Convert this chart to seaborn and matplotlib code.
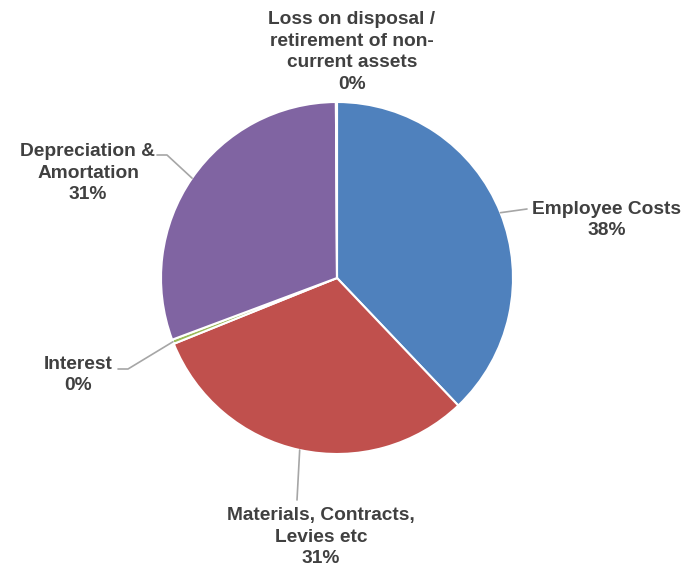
import numpy as np
import matplotlib
matplotlib.use("Agg")
import matplotlib.pyplot as plt
import seaborn as sns

categories = ["Employee Costs", "Materials, Contracts,\nLevies etc", "Interest",
              "Depreciation &\nAmortation", "Loss on disposal /\nretirement of non-\ncurrent assets"]
shares = [37.9, 31.0, 0.4, 30.6, 0.1]
pct_labels = ["38%", "31%", "0%", "31%", "0%"]
colors = ["#4F81BD", "#C0504D", "#9BBB59", "#8064A2", "#4BACC6"]

sns.set_theme(style="white")
plt.rcParams["font.family"] = ["Liberation Sans", "DejaVu Sans"]

W, H = 688, 570
fig = plt.figure(figsize=(W / 100, H / 100), dpi=100)
ax = fig.add_axes([0, 0, 1, 1])

cx, cy, r = 337, H - 278, 176
wedges, _ = ax.pie(shares, colors=colors, startangle=90, counterclock=False,
                   center=(cx, cy), radius=r,
                   wedgeprops=dict(edgecolor="white", linewidth=1.5))
ax.set_xlim(0, W)
ax.set_ylim(0, H)
ax.set_aspect("equal")
ax.axis("off")

txt_kw = dict(fontsize=13.8, fontweight="bold", color="#404040",
              ha="center", va="center", linespacing=1.36)
line_kw = dict(color="#A6A6A6", lw=1.2)

def anchor(w):
    mid = np.deg2rad((w.theta1 + w.theta2) / 2)
    return cx + r * np.cos(mid), cy + r * np.sin(mid)

# leader-line elbows and label centres (pixel coords, y from top)
layout = {
    0: ([(527, 209)], (607, 220)),
    1: ([(297, 500)], (321, 537)),
    2: ([(128, 369), (118, 369)], (78, 375)),
    3: ([(167, 155), (157, 155)], (88, 173)),
    4: ([], (352, 52)),
}

for i, w in enumerate(wedges):
    pts, (tx, ty) = layout[i]
    if pts:
        ax0, ay0 = anchor(w)
        xs = [ax0] + [p[0] for p in pts]
        ys = [ay0] + [H - p[1] for p in pts]
        ax.plot(xs, ys, **line_kw)
    ax.text(tx, H - ty, f"{categories[i]}\n{pct_labels[i]}", **txt_kw)

fig.savefig("out.png", dpi=100, facecolor="white")
